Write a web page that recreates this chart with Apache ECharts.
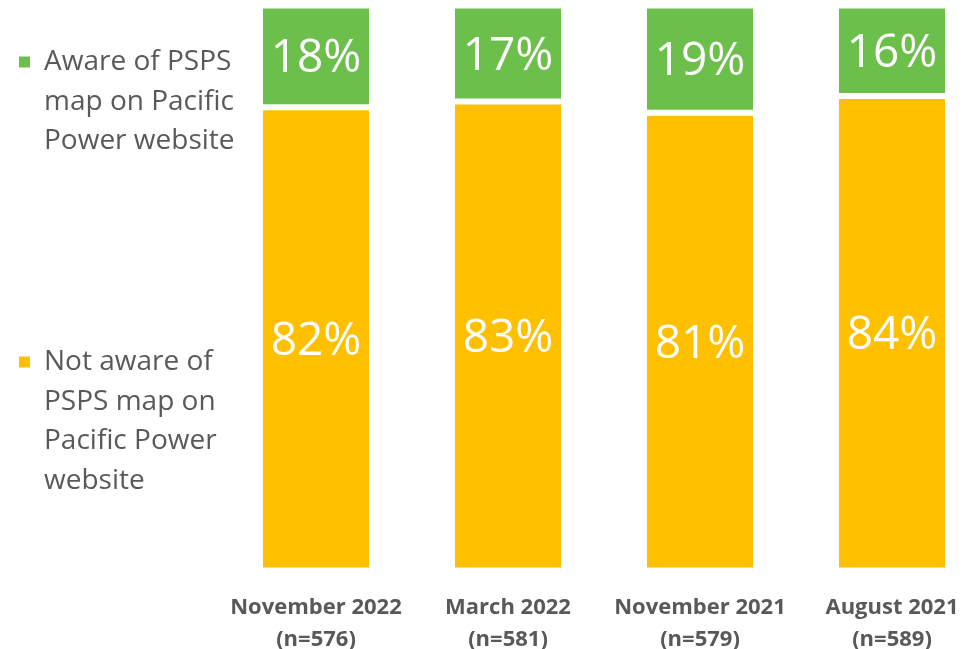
<!DOCTYPE html>
<html>
<head>
<meta charset="utf-8">
<script src="https://cdn.jsdelivr.net/npm/echarts@6/dist/echarts.min.js"></script>
<style>
html,body{margin:0;padding:0;background:#fff;}
#chart{width:963px;height:649px;}
</style>
</head>
<body>
<div id="chart"></div>
<script>
var categories = ['November 2022', 'March 2022', 'November 2021', 'August 2021'];
var sampleSizes = ['n=576', 'n=581', 'n=579', 'n=589'];
var notAware = [82, 83, 81, 84];
var aware = [18, 17, 19, 16];
var seriesNames = ['Aware of PSPS map on Pacific Power website', 'Not aware of PSPS map on Pacific Power website'];
var legendLines1 = ['Aware of PSPS', 'map on Pacific', 'Power website'];
var legendLines2 = ['Not aware of', 'PSPS map on', 'Pacific Power', 'website'];

var axisLabels = categories.map(function (c, i) { return c + '\n(' + sampleSizes[i] + ')'; });
var LH = 39.6;
function iconPath(lines) {
  var h = lines * LH;
  var c = LH / 2;
  var s = 5.5;
  return 'path://M0,0L0,0M0,' + (c - s) + 'L11,' + (c - s) + 'L11,' + (c + s) + 'L0,' + (c + s) + 'ZM20,' + h + 'L20,' + h;
}
var legendText = {
  fontFamily: 'Open Sans', fontSize: 28, color: '#595959', lineHeight: LH
};
var barLabel = {show: true, position: 'inside', formatter: '{c}%', color: '#ffffff',
  fontFamily: 'Open Sans', fontSize: 46, textBorderWidth: 0, offset: [0, 3]};
var chart = echarts.init(document.getElementById('chart'), null, {renderer: 'canvas'});
chart.setOption({
  animation: false,
  backgroundColor: '#ffffff',
  legend: [{
    data: [seriesNames[0]],
    left: 19,
    top: 62 - LH / 2,
    padding: 0,
    orient: 'vertical',
    itemWidth: 20,
    itemHeight: 3 * LH,
    icon: iconPath(3),
    itemStyle: {borderWidth: 0},
    formatter: function () { return legendLines1.join('\n'); },
    textStyle: legendText,
    selectedMode: false
  }, {
    data: [seriesNames[1]],
    left: 19,
    top: 362 - LH / 2,
    padding: 0,
    orient: 'vertical',
    itemWidth: 20,
    itemHeight: 4 * LH,
    icon: iconPath(4),
    itemStyle: {borderWidth: 0},
    formatter: function () { return legendLines2.join('\n'); },
    textStyle: legendText,
    selectedMode: false
  }],
  grid: {left: 220, width: 768, top: 5.5, bottom: 78.5, containLabel: false, outerBoundsMode: 'none'},
  xAxis: {
    type: 'category',
    data: axisLabels,
    axisLine: {show: false},
    axisTick: {show: false},
    axisLabel: {
      interval: 0,
      margin: 21,
      fontFamily: 'Open Sans',
      fontWeight: 'bold',
      fontSize: 22,
      color: '#595959',
      lineHeight: 32
    }
  },
  yAxis: {type: 'value', min: 0, max: 100, show: false},
  series: [{
    name: seriesNames[1],
    type: 'bar',
    stack: 'total',
    data: notAware,
    barWidth: 112,
    itemStyle: {color: '#FFC000', borderColor: '#ffffff', borderWidth: 3},
    label: barLabel
  }, {
    name: seriesNames[0],
    type: 'bar',
    stack: 'total',
    data: aware,
    barWidth: 112,
    itemStyle: {color: '#6CBF4A', borderColor: '#ffffff', borderWidth: 3},
    label: barLabel
  }]
});
</script>
</body>
</html>
